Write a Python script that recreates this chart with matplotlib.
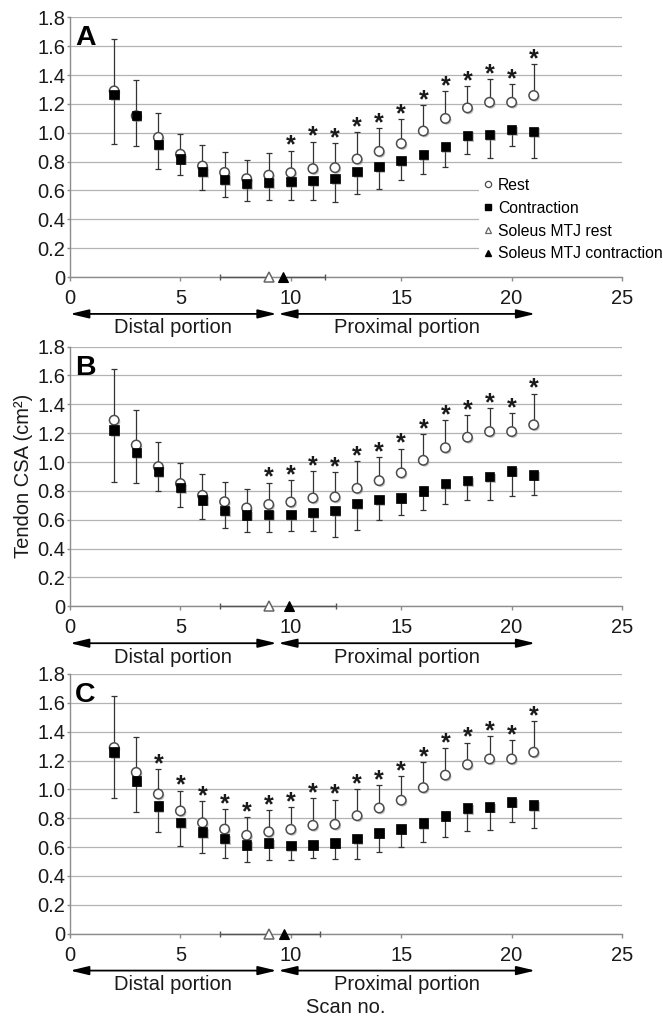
import matplotlib

matplotlib.use("Agg")
import matplotlib.patheffects as pe
import matplotlib.pyplot as plt
import numpy as np
from matplotlib.lines import Line2D

plt.rcParams["font.family"] = ["Liberation Sans", "DejaVu Sans"]

_INK = "#1a1a1a"
_GRID = "#b3b3b3"
_SPINE = "#8c8c8c"
_BAR = "#333333"

# ---- data ---------------------------------------------------------------
scan = [2, 3, 4, 5, 6, 7, 8, 9, 10, 11, 12, 13, 14, 15, 16, 17, 18, 19, 20, 21]

rest_mean = [1.29, 1.118, 0.968, 0.851, 0.769, 0.725, 0.682, 0.706, 0.723, 0.751,
             0.758, 0.818, 0.871, 0.925, 1.012, 1.099, 1.172, 1.211, 1.211, 1.258]
rest_sd = [0.357, 0.246, 0.171, 0.141, 0.149, 0.14, 0.128, 0.151, 0.153, 0.187,
           0.172, 0.186, 0.161, 0.168, 0.179, 0.189, 0.153, 0.16, 0.128, 0.216]

cont_a = [1.266, 1.12, 0.917, 0.818, 0.730, 0.677, 0.649, 0.656, 0.661, 0.668,
          0.682, 0.730, 0.765, 0.806, 0.850, 0.903, 0.982, 0.989, 1.021, 1.010]
cont_a_sd = [0.344, 0.21, 0.168, 0.111, 0.127, 0.12, 0.125, 0.12, 0.125, 0.132,
             0.162, 0.155, 0.157, 0.134, 0.136, 0.138, 0.129, 0.162, 0.113, 0.185]

cont_b = [1.221, 1.065, 0.936, 0.823, 0.737, 0.666, 0.634, 0.638, 0.638, 0.650,
          0.666, 0.712, 0.740, 0.751, 0.80, 0.853, 0.871, 0.899, 0.938, 0.910]
cont_b_sd = [0.357, 0.208, 0.134, 0.136, 0.129, 0.12, 0.12, 0.124, 0.119, 0.125,
             0.184, 0.18, 0.143, 0.117, 0.134, 0.145, 0.131, 0.159, 0.175, 0.14]

cont_c = [1.258, 1.059, 0.884, 0.771, 0.704, 0.658, 0.616, 0.63, 0.612, 0.616,
          0.63, 0.658, 0.699, 0.725, 0.766, 0.817, 0.870, 0.879, 0.912, 0.891]
cont_c_sd = [0.318, 0.214, 0.182, 0.164, 0.143, 0.136, 0.122, 0.122, 0.104, 0.094,
             0.115, 0.143, 0.134, 0.125, 0.131, 0.148, 0.155, 0.157, 0.139, 0.157]

# first scan with a significant rest/contraction difference
star_from = {"A": 10, "B": 9, "C": 4}

# soleus musculotendinous junction position (scan no.)
mtj_rest, mtj_rest_sd = 9.0, 2.2
mtj_cont = {"A": 9.65, "B": 9.9, "C": 9.68}
mtj_cont_sd = {"A": 1.9, "B": 2.14, "C": 1.65}

distal_span = [0, 9.36]
proximal_span = [9.43, 21.07]

y_ticks = [0, 0.2, 0.4, 0.6, 0.8, 1.0, 1.2, 1.4, 1.6, 1.8]
y_labels = ["0", "0.2", "0.4", "0.6", "0.8", "1.0", "1.2", "1.4", "1.6", "1.8"]
x_ticks = [0, 5, 10, 15, 20, 25]

panels = [("A", cont_a, cont_a_sd, 0.7276),
          ("B", cont_b, cont_b_sd, 0.4038),
          ("C", cont_c, cont_c_sd, 0.0819)]

shadow = [pe.SimplePatchShadow(offset=(1.0, -1.2), shadow_rgbFace="#777777", alpha=0.45),
          pe.Normal()]

fig = plt.figure(figsize=(6.63, 10.17), dpi=100)

for letter, cont, cont_sd, bottom in panels:
    ax = fig.add_axes([0.1056, bottom, 0.8326, 0.2554])
    x = np.array(scan)
    r = np.array(rest_mean)
    rs = np.array(rest_sd)
    c = np.array(cont)
    cs = np.array(cont_sd)

    # rest SD upward, contraction SD downward
    ax.errorbar(x, r, yerr=[np.zeros_like(rs), rs], fmt="none", ecolor=_BAR,
                elinewidth=0.9, capsize=2.5, capthick=0.9, zorder=3)
    ax.errorbar(x, c, yerr=[cs, np.zeros_like(cs)], fmt="none", ecolor=_BAR,
                elinewidth=0.9, capsize=2.5, capthick=0.9, zorder=3)
    ax.plot(x, r, "o", ms=6.8, mfc="white", mec="#4d4d4d", mew=1.1, ls="none",
            zorder=4, path_effects=shadow)
    ax.plot(x, c, "s", ms=6.8, mfc="black", mec="black", mew=0.5, ls="none",
            zorder=5, path_effects=shadow)

    for xi, top in zip(x, r + rs):
        if xi >= star_from[letter]:
            ax.annotate("*", xy=(xi, top), xytext=(0, -1.5), textcoords="offset points",
                        ha="center", va="baseline", fontsize=18, fontweight="bold",
                        color=_INK)

    # soleus MTJ on the x axis
    mc, mcs = mtj_cont[letter], mtj_cont_sd[letter]
    ax.errorbar([mtj_rest], [0], xerr=[[mtj_rest_sd], [0]], fmt="none", ecolor="#555555",
                elinewidth=1.0, capsize=2.5, capthick=1.0, zorder=6, clip_on=False)
    ax.errorbar([mc], [0], xerr=[[0], [mcs]], fmt="none", ecolor="#555555",
                elinewidth=1.0, capsize=2.5, capthick=1.0, zorder=6, clip_on=False)
    ax.plot([mtj_rest], [0], "^", ms=6.5, mfc="white", mec="#666666", mew=1.1,
            zorder=7, clip_on=False)
    ax.plot([mc], [0], "^", ms=6.5, mfc="black", mec="black", mew=0.8,
            zorder=7, clip_on=False)

    ax.set_xlim(0, 25)
    ax.set_ylim(0, 1.8)
    ax.set_yticks(y_ticks)
    ax.set_yticklabels(y_labels)
    ax.set_xticks(x_ticks)
    ax.yaxis.grid(True, color=_GRID, lw=0.9)
    ax.set_axisbelow(True)
    for s in ("top", "right"):
        ax.spines[s].set_visible(False)
    for s in ("left", "bottom"):
        ax.spines[s].set_color(_SPINE)
        ax.spines[s].set_linewidth(1.0)
    ax.tick_params(axis="y", length=2, width=1, color=_SPINE, pad=1.5,
                   labelsize=14.5, labelcolor=_INK)
    ax.tick_params(axis="x", length=3, width=1, color=_SPINE, pad=5.5,
                   labelsize=14.5, labelcolor=_INK)

    ax.text(0.009, 0.969, letter, transform=ax.transAxes, ha="left", va="top",
            fontsize=20.5, fontweight="bold", color="black")

    # distal / proximal arrows under the axis
    tr = ax.get_xaxis_transform()
    arrow = dict(arrowstyle="<|-|>,head_length=0.8,head_width=0.19", color="black",
                 lw=1.3, mutation_scale=14, shrinkA=0, shrinkB=0)
    for span in (distal_span, proximal_span):
        ax.annotate("", xy=(span[1], -0.142), xytext=(span[0], -0.142), xycoords=tr,
                    textcoords=tr, arrowprops=arrow, annotation_clip=False)
    ax.text(4.67, -0.2165, "Distal portion", transform=tr, ha="center",
            va="baseline", fontsize=14.5, color=_INK)
    ax.text(15.27, -0.2165, "Proximal portion", transform=tr, ha="center",
            va="baseline", fontsize=14.5, color=_INK)

    if letter == "A":
        handles = [
            Line2D([], [], ls="none", marker="o", ms=4.5, mfc="white", mec="#4d4d4d", mew=0.9),
            Line2D([], [], ls="none", marker="s", ms=4.5, mfc="black", mec="black"),
            Line2D([], [], ls="none", marker="^", ms=4.5, mfc="white", mec="#666666", mew=0.9),
            Line2D([], [], ls="none", marker="^", ms=4.5, mfc="black", mec="black"),
        ]
        labels = ["Rest", "Contraction", "Soleus MTJ rest", "Soleus MTJ contraction"]
        leg = ax.legend(handles, labels, loc="upper left", bbox_to_anchor=(0.741, 0.40),
                        frameon=True, facecolor="white", edgecolor="none", fancybox=False,
                        framealpha=1, fontsize=11.3, handlelength=0.6, handletextpad=0.3,
                        borderpad=0.3, labelspacing=0.5, borderaxespad=0)
        leg.set_zorder(8)
    if letter == "C":
        ax.text(12.5, -0.306, "Scan no.", transform=tr, ha="center", va="baseline",
                fontsize=14.5, color=_INK)

fig.text(0.035, 0.532, "Tendon CSA (cm²)", rotation=90, ha="center", va="center",
         fontsize=14.5, color=_INK)

fig.savefig("out.png", dpi=100, facecolor="white")
